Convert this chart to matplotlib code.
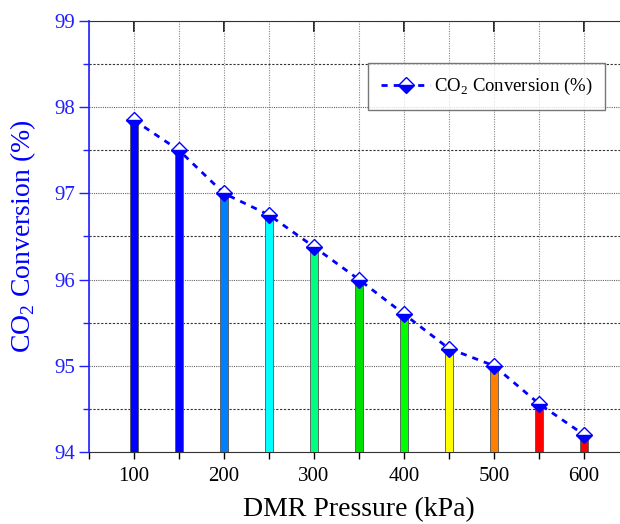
import matplotlib.pyplot as plt
from matplotlib.ticker import MultipleLocator, FixedLocator

plt.rcParams['font.family'] = ['Liberation Serif', 'DejaVu Serif']
plt.rcParams['mathtext.fontset'] = 'custom'
plt.rcParams['mathtext.rm'] = 'Liberation Serif'

pressure = [100, 150, 200, 250, 300, 350, 400, 450, 500, 550, 600]
conversion = [97.85, 97.5, 97.0, 96.75, 96.38, 96.0, 95.6, 95.2, 95.0, 94.56, 94.2]
bar_colors = ['#0000ff', '#0000ff', '#0080ff', '#00ffff', '#00ff80', '#00e000',
              '#00ff00', '#ffff00', '#ff8000', '#ff0000', '#ff0000']
x_ticks = [100, 200, 300, 400, 500, 600]

fig = plt.figure(figsize=(6.2, 5.24), dpi=100)
ax = fig.add_axes([89 / 620, 72 / 524, 540 / 620, 431 / 524])

ax.bar(pressure, [c - 94 for c in conversion], bottom=94, width=8,
       color=bar_colors, edgecolor='#555555', linewidth=0.6, zorder=3)
ax.plot(pressure, conversion, linestyle=(0, (2.2, 2.2)), color='#0000ff', lw=2,
        marker='D', markersize=8, fillstyle='bottom', markerfacecolor='#0000ff',
        markerfacecoloralt='white', markeredgecolor='#0000ff', markeredgewidth=1,
        label='CO$_2$ Conversion (%)', zorder=4)

ax.set_xlim(50, 650)
ax.set_ylim(94, 99)

# bottom ticks every 50, labels every 100
ax.xaxis.set_major_locator(FixedLocator(x_ticks))
ax.xaxis.set_minor_locator(MultipleLocator(50))
ax.yaxis.set_major_locator(MultipleLocator(1))
ax.yaxis.set_minor_locator(MultipleLocator(0.5))

ax.tick_params(axis='x', which='major', direction='out', length=5, width=1,
               labelsize=15, colors='black', pad=6)
ax.tick_params(axis='x', which='minor', direction='out', length=5, width=1)
ax.tick_params(axis='y', which='major', direction='out', length=7, width=1,
               labelsize=15, colors='#2020ff', pad=3)
ax.tick_params(axis='y', which='minor', direction='out', length=4, width=1,
               colors='#2020ff')

ax.grid(True, which='major', axis='y', linestyle=(0, (1, 1)), color='#666666', lw=0.8)
ax.grid(True, which='minor', axis='y', linestyle=(0, (2, 1.5)), color='#333333', lw=0.8)
ax.grid(True, which='both', axis='x', linestyle=(0, (1, 1.2)), color='#888888', lw=0.8)

ax.spines['left'].set_color('#2020ff')
ax.spines['left'].set_linewidth(1.2)
ax.spines['bottom'].set_color('#333333')
ax.spines['top'].set_color('#333333')
ax.spines['right'].set_visible(False)

# inward ticks along the top spine
top = ax.secondary_xaxis('top')
top.xaxis.set_major_locator(FixedLocator(x_ticks))
top.tick_params(direction='in', length=8, width=1.2, labeltop=False)
top.spines['top'].set_visible(False)

ax.set_xlabel('DMR Pressure (kPa)', fontsize=20, labelpad=8)
ax.set_ylabel('CO$_2$ Conversion (%)', fontsize=20, color='#0000ff', labelpad=12)

leg = ax.legend(loc='upper left', bbox_to_anchor=(279 / 540, 1 - 42 / 431),
                borderaxespad=0, fontsize=13.5, frameon=True, fancybox=False,
                edgecolor='#555555', handlelength=2.6, borderpad=0.7,
                handletextpad=0.2)
leg.get_frame().set_linewidth(1)
leg.set_zorder(5)

fig.savefig('out.png', dpi=100)
